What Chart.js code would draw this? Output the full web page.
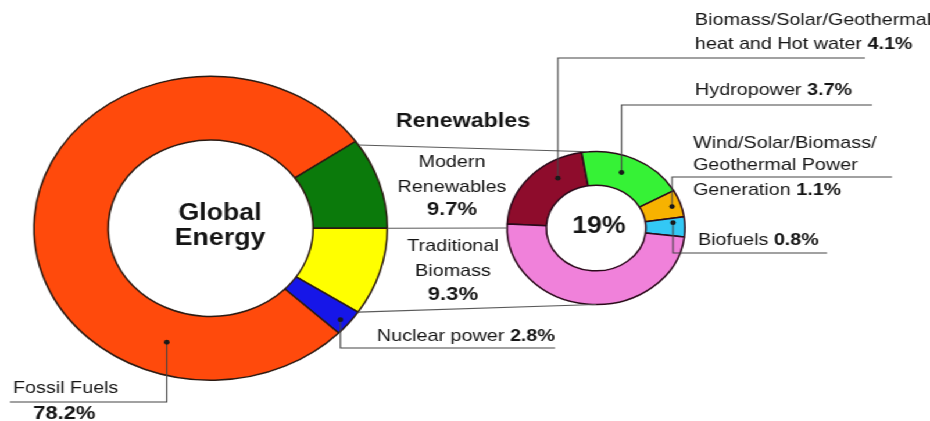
<!DOCTYPE html>
<html>
<head>
<meta charset="utf-8">
<title>Global Energy</title>
<script src="https://cdn.jsdelivr.net/npm/chart.js@4.4.1/dist/chart.umd.min.js"></script>
<style>
  html, body { margin: 0; padding: 0; background: #fff; overflow: hidden; }
  /* the source picture is stretched sideways, so draw on 800px and widen to 930px */
  #stage { position: relative; width: 800px; height: 421px; transform: scaleX(1.1625); transform-origin: 0 0; }
  #stage canvas { position: absolute; left: 0; top: 0; }
</style>
</head>
<body>
<div id="stage">
  <canvas id="globalChart" width="800" height="421"></canvas>
  <canvas id="renewChart" width="800" height="421"></canvas>
</div>
<script>
// Global energy shares (%)
const globalLabels = [['Modern', 'Renewables'], ['Traditional', 'Biomass'], ['Nuclear power'], ['Fossil Fuels']];
const globalShares = [9.7, 9.3, 2.8, 78.2];
const globalColors = ['#0b7a0b', '#ffff00', '#1616e8', '#ff4a0c'];

// Renewables breakdown (% of global energy)
const renewLabels = [['Biomass/Solar/Geothermal', 'heat and Hot water'], ['Hydropower'],
  ['Wind/Solar/Biomass/', 'Geothermal Power', 'Generation'], ['Biofuels'], ['Traditional Biomass']];
const renewShares = [4.1, 3.7, 1.1, 0.8, 9.3];
const renewColors = ['#8e0c2c', '#36f236', '#f7b200', '#33c8f5', '#f081da'];

const globalTitle = ['Global', 'Energy'];
const renewTitle = 'Renewables';
const renewTotal = '19%';

const SX = 930 / 800;          // horizontal stretch of the stage
const X = v => v / SX;         // screen x -> canvas x
const FONT = '"Liberation Sans", Arial, sans-serif';
const pct = v => v.toFixed(1) + '%';

function donutOptions(pad, rotation, cutout) {
    return {
        responsive: false,
        animation: false,
        events: [],
        rotation: rotation,
        cutout: cutout,
        layout: { padding: pad },
        plugins: { legend: { display: false }, tooltip: { enabled: false } }
    };
}

// big donut: centre (210,228) on screen, radius 152 after stretch
const globalChart = new Chart(document.getElementById('globalChart'), {
    type: 'doughnut',
    data: {
        labels: globalLabels.map(l => l.join(' ')),
        datasets: [{
            data: globalShares,
            backgroundColor: globalColors,
            borderColor: '#2b1a12',
            borderWidth: 1.5
        }]
    },
    options: donutOptions({ left: 28.4, top: 75.5, right: 466, bottom: 40 }, 90 - globalShares[0] * 3.6, '58%')
});

// where each leader starts on its slice (t along the arc, rf across the ring) and how it runs
const leaders = [
    { chart: 'global', index: 3, t: 0.23, rf: 0.5, turnY: 402, endX: 10 },
    { chart: 'global', index: 2, t: 0.58, rf: 0.88, turnY: 348, endX: 555 },
    { chart: 'renew', index: 0, t: 0.69, rf: 0.5, turnY: 58, endX: 865 },
    { chart: 'renew', index: 1, t: 0.44, rf: 0.5, turnY: 105, endX: 872 },
    { chart: 'renew', index: 2, t: 0.53, rf: 0.77, turnY: 177, endX: 892 },
    { chart: 'renew', index: 3, t: 0.25, rf: 0.7, turnY: 253, endX: 827 }
];

// label blocks: x in screen px, line centres in px
const blocks = [
    { set: 'global', index: 0, align: 'center', x: 452, ys: [162, 187], pctY: 210 },
    { set: 'global', index: 1, align: 'center', x: 453, ys: [246, 271], pctY: 295 },
    { set: 'global', index: 2, align: 'left', x: 377, ys: [336] },
    { set: 'global', index: 3, align: 'left', x: 13, ys: [388], pctY: 414, pctX: 33 },
    { set: 'renew', index: 0, align: 'left', x: 695, ys: [20, 44] },
    { set: 'renew', index: 1, align: 'left', x: 695, ys: [90] },
    { set: 'renew', index: 2, align: 'left', x: 693, ys: [143, 165, 190] },
    { set: 'renew', index: 3, align: 'left', x: 698, ys: [240] }
];

function arcPoint(arc, t, rf) {
    const p = arc.getProps(['x', 'y', 'startAngle', 'endAngle', 'innerRadius', 'outerRadius'], true);
    const a = p.startAngle + t * (p.endAngle - p.startAngle);
    const r = p.innerRadius + rf * (p.outerRadius - p.innerRadius);
    return { x: p.x + Math.cos(a) * r, y: p.y + Math.sin(a) * r };
}

function edgePoint(arc, angle) {
    const p = arc.getProps(['x', 'y', 'outerRadius'], true);
    return { x: p.x + Math.cos(angle) * p.outerRadius, y: p.y + Math.sin(angle) * p.outerRadius };
}

const annotations = {
    id: 'annotations',
    afterDraw(chart) {
        const ctx = chart.ctx;
        const gArcs = globalChart.getDatasetMeta(0).data;
        const rArcs = chart.getDatasetMeta(0).data;
        ctx.save();

        // connector lines between the two donuts
        ctx.strokeStyle = '#5a5a5a';
        ctx.lineWidth = 1.2;
        const links = [
            [edgePoint(gArcs[0], gArcs[0].startAngle + 0.03), edgePoint(rArcs[0], -Math.PI / 2 - 0.08)],
            [edgePoint(gArcs[0], gArcs[0].endAngle), edgePoint(rArcs[4], Math.PI)],
            [edgePoint(gArcs[1], gArcs[1].endAngle), edgePoint(rArcs[4], Math.PI / 2)]
        ];
        links.forEach(([a, b]) => {
            ctx.beginPath();
            ctx.moveTo(a.x, a.y);
            ctx.lineTo(b.x, b.y);
            ctx.stroke();
        });

        // leader lines with dots
        leaders.forEach(l => {
            const arcs = l.chart === 'global' ? gArcs : rArcs;
            const p = arcPoint(arcs[l.index], l.t, l.rf);
            ctx.strokeStyle = '#444';
            ctx.lineWidth = 1.1;
            ctx.beginPath();
            ctx.moveTo(p.x, p.y);
            ctx.lineTo(p.x, l.turnY);
            ctx.lineTo(X(l.endX), l.turnY);
            ctx.stroke();
            ctx.fillStyle = '#1a1a1a';
            ctx.beginPath();
            ctx.arc(p.x, p.y, 2.4, 0, Math.PI * 2);
            ctx.fill();
        });

        // texts
        ctx.fillStyle = '#151515';
        ctx.textBaseline = 'middle';
        blocks.forEach(b => {
            const lines = b.set === 'global' ? globalLabels[b.index] : renewLabels[b.index];
            const value = pct(b.set === 'global' ? globalShares[b.index] : renewShares[b.index]);
            ctx.textAlign = b.align;
            lines.forEach((line, i) => {
                const last = i === lines.length - 1;
                ctx.font = '17px ' + FONT;
                if (last && b.pctY === undefined) {
                    // value sits on the same line, in bold
                    ctx.textAlign = 'left';
                    const txt = line + ' ';
                    ctx.fillText(txt, X(b.x), b.ys[i]);
                    const w = ctx.measureText(txt).width;
                    ctx.font = 'bold 17px ' + FONT;
                    ctx.fillText(value, X(b.x) + w, b.ys[i]);
                } else {
                    ctx.fillText(line, X(b.x), b.ys[i]);
                }
            });
            if (b.pctY !== undefined) {
                ctx.font = 'bold 19px ' + FONT;
                if (b.pctX !== undefined) {
                    ctx.textAlign = 'left';
                    ctx.fillText(value, X(b.pctX), b.pctY);
                } else {
                    ctx.textAlign = 'center';
                    ctx.fillText(value, X(b.x), b.pctY);
                }
            }
        });

        ctx.textAlign = 'center';
        ctx.font = 'bold 20px ' + FONT;
        ctx.fillText(renewTitle, X(463), 121);
        ctx.font = 'bold 23px ' + FONT;
        ctx.fillText(globalTitle[0], X(220), 214);
        ctx.fillText(globalTitle[1], X(220), 239);
        ctx.fillText(renewTotal, X(599), 227);
        ctx.restore();
    }
};

// small donut: centre (596,228) on screen, radius 76.5 after stretch
const renewChart = new Chart(document.getElementById('renewChart'), {
    type: 'doughnut',
    data: {
        labels: renewLabels.map(l => l.join(' ')),
        datasets: [{
            data: renewShares,
            backgroundColor: renewColors,
            borderColor: '#2a0a1a',
            borderWidth: 1.5
        }]
    },
    options: donutOptions({ left: 435.5, top: 150.5, right: 210, bottom: 115.5 }, -87, '56%'),
    plugins: [annotations]
});
</script>
</body>
</html>
